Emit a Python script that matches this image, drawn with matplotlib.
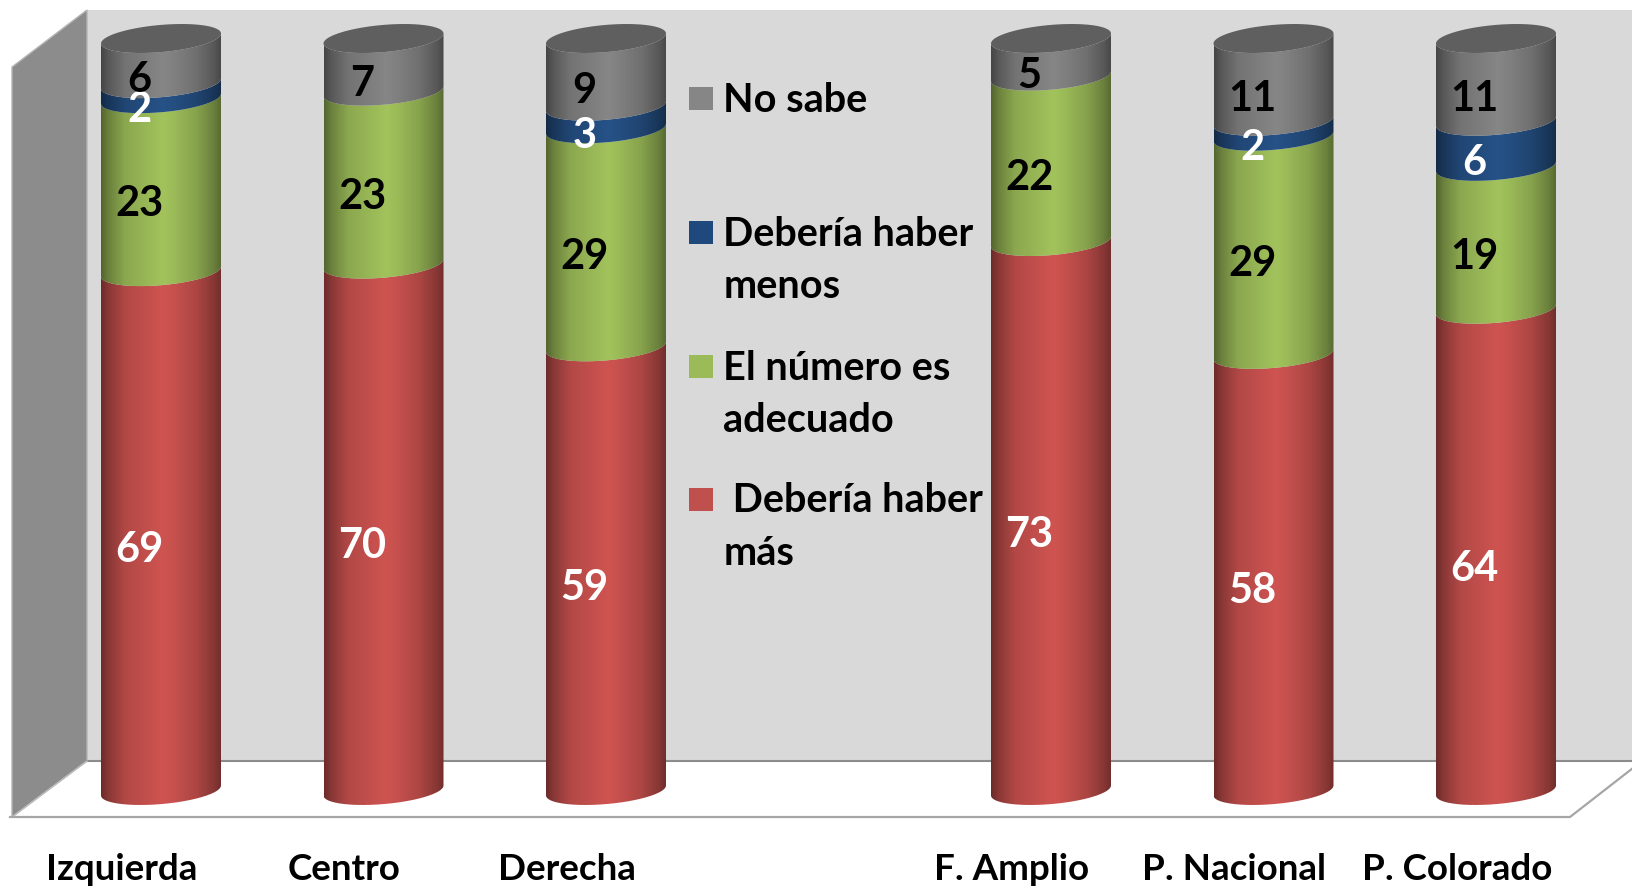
import matplotlib
matplotlib.use('Agg')
import matplotlib.pyplot as plt
import numpy as np
from matplotlib.patches import PathPatch, Polygon, Rectangle
from matplotlib.path import Path

# Chart data (bottom to top in each column)
categories = ['Izquierda', 'Centro', 'Derecha', 'F. Amplio', 'P. Nacional', 'P. Colorado']
slots = [0, 1, 2, 4, 5, 6]
mas = [69, 70, 59, 73, 58, 64]
adecuado = [23, 23, 29, 22, 29, 19]
menos = [2, 0, 3, 0, 2, 6]
no_sabe = [6, 7, 9, 5, 11, 11]

series = [mas, adecuado, menos, no_sabe]
colors = ['#cf5451', '#a2c35c', '#265287', '#868686']
label_colors = ['white', 'black', 'white', 'black']

legend_labels = ['No sabe', 'Debería haber\nmenos', 'El número es\nadecuado', ' Debería haber\nmás']
legend_colors = ['#868686', '#1f497d', '#9bbb59', '#c0504d']

W, H = 1633, 886
SLOT_PX = 222.5
FIRST_PX = 161
BASE_PX = 790.5
UNIT_PX = 7.52
HALF_W = 60
TILT = 5
MINOR = 13.6

plt.rcParams['font.family'] = ['Lato', 'DejaVu Sans']
plt.rcParams['font.weight'] = 'bold'

fig = plt.figure(figsize=(W / 100, H / 100), dpi=100)

# Walls and legend are drawn in pixel coordinates
bg = fig.add_axes([0, 0, 1, 1])
bg.set_xlim(0, W)
bg.set_ylim(H, 0)
bg.axis('off')
bg.add_patch(Rectangle((87, 10), W - 87, 751, fc='#d9d9d9', ec='none'))
bg.add_patch(Polygon([(12, 67), (87, 10), (87, 761), (12, 817)], fc='#8c8c8c', ec='#b5b5b5', lw=1))
bg.plot([87, W], [761, 761], color='#8c8c8c', lw=1.5)
bg.plot([12, 87], [817, 761], color='#bdbdbd', lw=1)
bg.plot([10, 1570, W], [817, 817, 768], color='#a6a6a6', lw=1.6)

legend_y = [98.5, 232.5, 366.5, 499.5]
for y, label, color in zip(legend_y, legend_labels, legend_colors):
    bg.add_patch(Rectangle((689, y - 11.5), 24, 23, fc=color, ec='none'))
    bg.text(723.5, y - 17, label, fontsize=28.5, va='top', ha='left', color='black', linespacing=1.53)

# Stacked cylinders in category / percent coordinates
ax = fig.add_axes([0, 0, 1, 1])
ax.patch.set_alpha(0)
ax.axis('off')


def front_arc(slot, value):
    t = np.linspace(np.pi, 2 * np.pi, 80)
    x = slot + HALF_W * np.cos(t) / SLOT_PX
    y = value + (TILT * np.cos(t) + MINOR * np.sin(t)) / UNIT_PX
    return x, y


def shade(color):
    rgb = np.array(matplotlib.colors.to_rgb(color))
    stops = [0, 0.06, 0.2, 0.52, 0.62, 0.8, 0.94, 1]
    gains = [0.52, 0.66, 0.86, 1.0, 0.95, 0.83, 0.66, 0.55]
    gain = np.interp(np.linspace(0, 1, 120), stops, gains)
    return (gain[:, None] * rgb)[None, :, :]


for n, slot in enumerate(slots):
    bottom = 0
    half = HALF_W / SLOT_PX
    for s, values in enumerate(series):
        v = values[n]
        if v == 0:
            continue
        x0, y0 = front_arc(slot, bottom)
        x1, y1 = front_arc(slot, bottom + v)
        verts = np.vstack([np.column_stack([x0, y0]), np.column_stack([x1, y1])[::-1]])
        clip = PathPatch(Path(np.vstack([verts, verts[0]])), fc='none', ec='none', transform=ax.transData)
        ax.add_patch(clip)
        img = ax.imshow(shade(colors[s]), extent=[slot - half, slot + half, bottom - 3, bottom + v + 3],
                        aspect='auto', zorder=2 + s, interpolation='bilinear')
        img.set_clip_path(clip)
        ax.annotate(str(v), (slot, bottom + v / 2), xytext=(-21.5, -19), textcoords='offset pixels',
                    ha='center', va='center', fontsize=30, color=label_colors[s], zorder=20)
        bottom += v

    # top cap
    t = np.linspace(0, 2 * np.pi, 120)
    ax.fill(slot + half * np.cos(t), bottom + (TILT * np.cos(t) + MINOR * np.sin(t)) / UNIT_PX,
            color='#5f5f5f', lw=0, zorder=10)

    ax.annotate(categories[n], (slot, 0), xytext=(-39, -89.5), textcoords='offset pixels',
                ha='center', va='baseline', fontsize=26.5, color='black', zorder=20,
                annotation_clip=False)

ax.set_xlim(-FIRST_PX / SLOT_PX, (W - FIRST_PX) / SLOT_PX)
ax.set_ylim((BASE_PX - H) / UNIT_PX, BASE_PX / UNIT_PX)

fig.savefig('out.png', dpi=100)
